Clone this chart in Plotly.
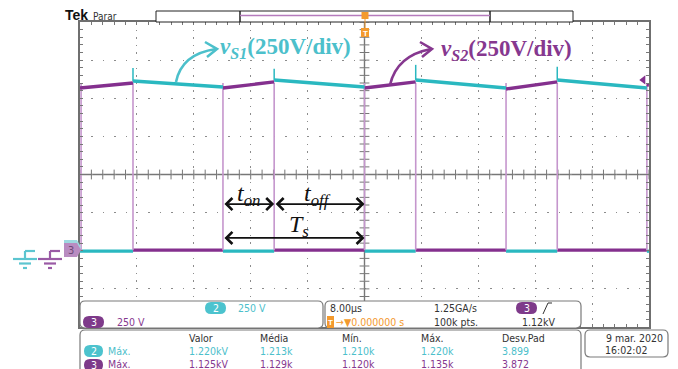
import numpy as np
import plotly.graph_objects as go

W, H = 678, 369

# ---------------- data ----------------
T_END = 80.0                                   # µs on screen (10 div x 8 µs)
s1_on_times = [7.45, 27.3, 47.2, 67.1]          # µs: v_S1 rises, v_S2 falls
s2_on_times = [0.15, 20.1, 40.0, 59.9, 79.7]    # µs: v_S2 rises, v_S1 falls
s1_high_start = [1113, 1120, 1120, 1120]        # V
s1_high_end = [1074, 1074, 1067, 1067]          # V
s1_spike = [1199, 1193, 1219, 1206]             # V
s2_high_start = [1067, 1067, 1067, 1061, 1090]  # V
s2_high_end = [1100, 1107, 1107, 1107, 1085]    # V
s1_low = -3                                     # V
s2_low = 4                                      # V
trigger_level = 1120                            # V

meas_headers = ["Valor", "Média", "Mín.", "Máx.", "Desv.Pad"]
meas_ch2 = ["1.220kV", "1.213k", "1.210k", "1.220k", "3.899"]
meas_ch3 = ["1.125kV", "1.129k", "1.120k", "1.135k", "3.872"]

CYAN = "#2AB8C0"
CYAN_T = "#4CC0CB"
PURPLE = "#84308E"
PURPLE_T = "#86388F"
EDGE = "#C596CD"
ORANGE = "#F39A2E"
GRID = "#8C8C8C"
UI = "Liberation Sans Narrow, DejaVu Sans Condensed, Liberation Sans, sans-serif"
SERIF = "Liberation Serif, Times New Roman, serif"


def segs(starts, ends, v0, v1):
    xs, ys = [], []
    for a, b, p, q in zip(starts, ends, v0, v1):
        xs += [a, b, None]
        ys += [p, q, None]
    return xs, ys


fig = go.Figure()

# graticule centre cross ticks
xt = np.arange(0, T_END + 0.01, 1.6)
yt = np.arange(-500, 1500.1, 50)
fig.add_trace(go.Scatter(x=xt, y=[500] * len(xt), mode="markers",
                         marker=dict(symbol="line-ns", size=7, line=dict(width=1, color="#777")),
                         hoverinfo="skip"))
fig.add_trace(go.Scatter(x=[40] * len(yt), y=yt, mode="markers",
                         marker=dict(symbol="line-ew", size=7, line=dict(width=1, color="#777")),
                         hoverinfo="skip"))

# low levels
s1_low_starts = [0.0] + s2_on_times[1:]
s1_low_ends = s1_on_times + [T_END]
x, y = segs(s1_low_starts, s1_low_ends, [s1_low] * 5, [s1_low] * 5)
fig.add_trace(go.Scatter(x=x, y=y, mode="lines", line=dict(color=CYAN, width=3.2), hoverinfo="skip"))
x, y = segs(s1_on_times, s2_on_times[1:], [s2_low] * 4, [s2_low] * 4)
fig.add_trace(go.Scatter(x=x, y=y, mode="lines", line=dict(color=PURPLE, width=3.4), hoverinfo="skip"))

# switching edges
ex, ey = [], []
for t in s1_on_times + s2_on_times:
    ex += [t, t, None]
    ey += [s2_low, 1100, None]
fig.add_trace(go.Scatter(x=ex, y=ey, mode="lines", line=dict(color=EDGE, width=1.6), hoverinfo="skip"))

# high levels
s2_starts = [0.0] + s2_on_times[1:]
s2_ends = s1_on_times + [T_END]
x, y = segs(s2_starts, s2_ends, s2_high_start, s2_high_end)
fig.add_trace(go.Scatter(x=x, y=y, mode="lines", line=dict(color=PURPLE, width=3.4), hoverinfo="skip"))
x, y = segs(s1_on_times, s2_on_times[1:], s1_high_start, s1_high_end)
fig.add_trace(go.Scatter(x=x, y=y, mode="lines", line=dict(color=CYAN, width=3.4), hoverinfo="skip"))
# turn-on spikes of v_S1
x, y = segs(s1_on_times, s1_on_times, s1_high_start, s1_spike)
fig.add_trace(go.Scatter(x=x, y=y, mode="lines", line=dict(color=CYAN, width=1.5), hoverinfo="skip"))
# trigger level marker
fig.add_trace(go.Scatter(x=[79.2], y=[trigger_level], mode="markers", cliponaxis=False,
                         marker=dict(symbol="triangle-left", size=8, color=PURPLE), hoverinfo="skip"))

# ---------------- helpers for pixel-placed decoration ----------------
def px(x, y):
    return x / W, 1 - y / H


def path_px(cmds):
    s = ""
    for c, pts in cmds:
        s += c + " ".join(f"{x / W:.5f},{1 - y / H:.5f}" for x, y in pts) + " "
    return s.strip()


def rrect(x0, y0, x1, y1, r):
    return path_px([("M", [(x0 + r, y0)]), ("L", [(x1 - r, y0)]), ("Q", [(x1, y0), (x1, y0 + r)]),
                    ("L", [(x1, y1 - r)]), ("Q", [(x1, y1), (x1 - r, y1)]), ("L", [(x0 + r, y1)]),
                    ("Q", [(x0, y1), (x0, y1 - r)]), ("L", [(x0, y0 + r)]), ("Q", [(x0, y0), (x0 + r, y0)]),
                    ("Z", [])])


shapes = []
annots = []


def box(x0, y0, x1, y1, r=5, fill="white", line="#7a7a7a", lw=1.2):
    shapes.append(dict(type="path", path=rrect(x0, y0, x1, y1, r), xref="paper", yref="paper",
                       fillcolor=fill, line=dict(color=line, width=lw), layer="above"))


def seg(x0, y0, x1, y1, color, w):
    a, b = px(x0, y0)
    c, d = px(x1, y1)
    shapes.append(dict(type="line", x0=a, y0=b, x1=c, y1=d, xref="paper", yref="paper",
                       line=dict(color=color, width=w), layer="above"))


def txt(x, y, s, color="#333", size=10.5, anchor="left", family=UI, bold=False):
    a, b = px(x, y)
    if bold:
        s = "<b>" + s + "</b>"
    annots.append(dict(x=a, y=b, xref="paper", yref="paper", text=s, showarrow=False,
                       xanchor=anchor, yanchor="middle", font=dict(family=family, size=size, color=color)))


def pill(x0, y0, x1, y1, color, label):
    box(x0, y0, x1, y1, r=(y1 - y0) / 2, fill=color, line=color, lw=0)
    txt((x0 + x1) / 2, (y0 + y1) / 2, label, color="white", size=10.5, anchor="center")


# centre cross lines of the graticule
shapes.append(dict(type="line", x0=0, x1=T_END, y0=500, y1=500, xref="x", yref="y",
                   line=dict(color="#777", width=1.4), layer="below"))
shapes.append(dict(type="line", x0=40, x1=40, y0=-500, y1=1500, xref="x", yref="y",
                   line=dict(color="#777", width=1.4), layer="below"))

# top status bar
txt(63, 15, "Tek", color="#111", size=14, family="Liberation Sans, Arial, sans-serif", bold=True)
txt(91, 16, "Parar", color="#333", size=10)
shapes.append(dict(type="rect", x0=156 / W, x1=573 / W, y0=1 - 22 / H, y1=1 - 11 / H, xref="paper",
                   yref="paper", line=dict(color="#222", width=1), fillcolor="white", layer="above"))
seg(240, 11, 240, 22, "#222", 1.5)
seg(490, 11, 490, 22, "#222", 1.5)
seg(240, 15.5, 490, 15.5, "#B57BBD", 1.5)
# trigger position marker
seg(365, 12, 365, 36, ORANGE, 1)
shapes.append(dict(type="rect", x0=361.5 / W, x1=368.5 / W, y0=1 - 19 / H, y1=1 - 12 / H, xref="paper",
                   yref="paper", line=dict(width=0), fillcolor=ORANGE, layer="above"))
shapes.append(dict(type="rect", x0=361 / W, x1=369 / W, y0=1 - 37 / H, y1=1 - 28 / H, xref="paper",
                   yref="paper", line=dict(width=0), fillcolor=ORANGE, layer="above"))
txt(365, 33, "T", color="white", size=8, anchor="center", family="Liberation Sans", bold=True)

# ground symbols and channel markers at the left
for dx, col in [(0, "#5CC5D0"), (25, "#9A5AA5")]:
    seg(25 + dx, 251, 35 + dx, 251, col, 2.2)
    seg(25 + dx, 251, 25 + dx, 259, col, 2.2)
    seg(13 + dx, 259, 37 + dx, 259, col, 2.2)
    seg(19 + dx, 263.5, 31 + dx, 263.5, col, 2.2)
    seg(23 + dx, 268, 27 + dx, 268, col, 2.2)
shapes.append(dict(type="path", path=path_px([("M", [(64, 240)]), ("L", [(77, 240)]), ("L", [(81, 247)]),
                                               ("L", [(77, 254)]), ("L", [(64, 254)]), ("Z", [])]),
                   xref="paper", yref="paper", fillcolor="#9ED9E0", line=dict(width=0), layer="above"))
shapes.append(dict(type="path", path=path_px([("M", [(64, 243)]), ("L", [(77, 243)]), ("L", [(81, 250)]),
                                               ("L", [(77, 257)]), ("L", [(64, 257)]), ("Z", [])]),
                   xref="paper", yref="paper", fillcolor="#B98CC1", line=dict(width=0), layer="above"))
txt(70.5, 250, "3", color="#6E4A76", size=11, anchor="center")

# curved label arrows
shapes.append(dict(type="path", path=path_px([("M", [(176, 82)]), ("C", [(180, 62), (195, 52), (216, 49)])]),
                   xref="paper", yref="paper", line=dict(color=CYAN_T, width=2.6), layer="above"))
shapes.append(dict(type="path", path=path_px([("M", [(205, 42)]), ("L", [(217, 49)]), ("L", [(207, 57)])]),
                   xref="paper", yref="paper", line=dict(color=CYAN_T, width=2.6), layer="above"))
shapes.append(dict(type="path", path=path_px([("M", [(390, 85)]), ("C", [(395, 63), (410, 53), (431, 49)])]),
                   xref="paper", yref="paper", line=dict(color=PURPLE_T, width=2.6), layer="above"))
shapes.append(dict(type="path", path=path_px([("M", [(420, 42)]), ("L", [(432, 49)]), ("L", [(422, 57)])]),
                   xref="paper", yref="paper", line=dict(color=PURPLE_T, width=2.6), layer="above"))

txt(218, 48, "<b><i>v</i></b><sub><b><i>S1</i></b></sub><b>(250V/div)</b>", color=CYAN_T, size=23, family=SERIF)
txt(439, 50, "<b><i>v</i></b><sub><b><i>S2</i></b></sub><b>(250V/div)</b>", color=PURPLE_T, size=23, family=SERIF)

# timing arrows (data coordinates)
for (t0, t1, v) in [(s2_on_times[1], s1_on_times[1], 306), (s1_on_times[1], s2_on_times[2], 306),
                    (s2_on_times[1], s2_on_times[2], 84)]:
    annots.append(dict(x=t1, y=v, ax=t0, ay=v, xref="x", yref="y", axref="x", ayref="y", text="",
                       showarrow=True, arrowside="end+start", arrowhead=4, startarrowhead=4,
                       arrowsize=1.3, startarrowsize=1.3, arrowwidth=1.8, arrowcolor="#111",
                       standoff=0, startstandoff=0))
annots.append(dict(x=(s2_on_times[1] + s1_on_times[1]) / 2, y=368, xref="x", yref="y", showarrow=False,
                   text="<i>t</i><sub><i>on</i></sub>", font=dict(family=SERIF, size=24, color="#111")))
annots.append(dict(x=(s1_on_times[1] + s2_on_times[2]) / 2 - 0.3, y=368, xref="x", yref="y", showarrow=False,
                   text="<i>t</i><sub><i>off</i></sub>", font=dict(family=SERIF, size=24, color="#111")))
annots.append(dict(x=(s2_on_times[1] + s2_on_times[2]) / 2 + 0.8, y=160, xref="x", yref="y", showarrow=False,
                   text="<i>T</i><sub><i>s</i></sub>", font=dict(family=SERIF, size=24, color="#111")))

# bottom information boxes
box(80, 301, 323, 328)
box(325, 301, 581, 328)
box(80, 330, 581, 380)
box(585, 330, 668, 357)

pill(205, 302, 226, 314, "#4CC3CE", "2")
txt(236, 308, "250 V", color=CYAN_T)
pill(83, 316, 104, 328, "#7E3A8A", "3")
txt(115, 322, "250 V", color=PURPLE_T)

txt(328, 308, "8.00µs")
txt(432, 308, "1.25GA/s")
pill(516, 302, 537, 314, "#7E3A8A", "3")
shapes.append(dict(type="path", path=path_px([("M", [(543, 314)]), ("L", [(548, 303)]), ("L", [(552, 303)])]),
                   xref="paper", yref="paper", line=dict(color="#333", width=1), layer="above"))
shapes.append(dict(type="rect", x0=327 / W, x1=334 / W, y0=1 - 328 / H, y1=1 - 316 / H, xref="paper",
                   yref="paper", line=dict(width=0), fillcolor=ORANGE, layer="above"))
txt(330.5, 322, "T", color="white", size=8, anchor="center", family="Liberation Sans", bold=True)
txt(334, 322, "→▼0.000000 s", color=ORANGE)
txt(432, 322, "100k pts.")
txt(520, 322, "1.12kV")

cols = [187, 258, 340, 419, 500]
for cx, h in zip(cols, meas_headers):
    txt(cx, 338, h)
pill(84, 345, 103, 357, "#4CC3CE", "2")
txt(106, 351, "Máx.", color=CYAN_T)
pill(84, 359, 103, 371, "#7E3A8A", "3")
txt(106, 364, "Máx.", color=PURPLE_T)
for cx, a, b in zip(cols, meas_ch2, meas_ch3):
    txt(cx, 351, a, color=CYAN_T)
    txt(cx, 364, b, color=PURPLE_T)

txt(665, 338, "9 mar. 2020", anchor="right")
txt(603, 350, "16:02:02")

fig.update_layout(width=W, height=H, margin=dict(l=0, r=0, t=0, b=0), paper_bgcolor="white",
                  plot_bgcolor="white", showlegend=False, shapes=shapes, annotations=annots)
fig.update_xaxes(range=[0, T_END], domain=[80 / W, 649 / W], dtick=8, tick0=0, showgrid=True,
                 gridcolor=GRID, gridwidth=1.3, griddash="1.3px,6.3px", showline=True, mirror="allticks",
                 linecolor="#6f6f6f", linewidth=1.5, ticks="inside", ticklen=3, tickcolor="#777",
                 showticklabels=False, zeroline=False, fixedrange=True,
                 minor=dict(dtick=1.6, ticks="inside", ticklen=3, tickcolor="#777", showgrid=False))
fig.update_yaxes(range=[-500, 1500], domain=[1 - 327 / H, 1 - 22 / H], dtick=250, tick0=-500, showgrid=True,
                 gridcolor=GRID, gridwidth=1.3, griddash="1.3px,10.1px", showline=True, mirror="allticks",
                 linecolor="#6f6f6f", linewidth=1.5, ticks="inside", ticklen=3, tickcolor="#777",
                 showticklabels=False, zeroline=False, fixedrange=True,
                 minor=dict(dtick=50, ticks="inside", ticklen=3, tickcolor="#777", showgrid=False))

fig.write_html("out.html", config={"displayModeBar": False})
